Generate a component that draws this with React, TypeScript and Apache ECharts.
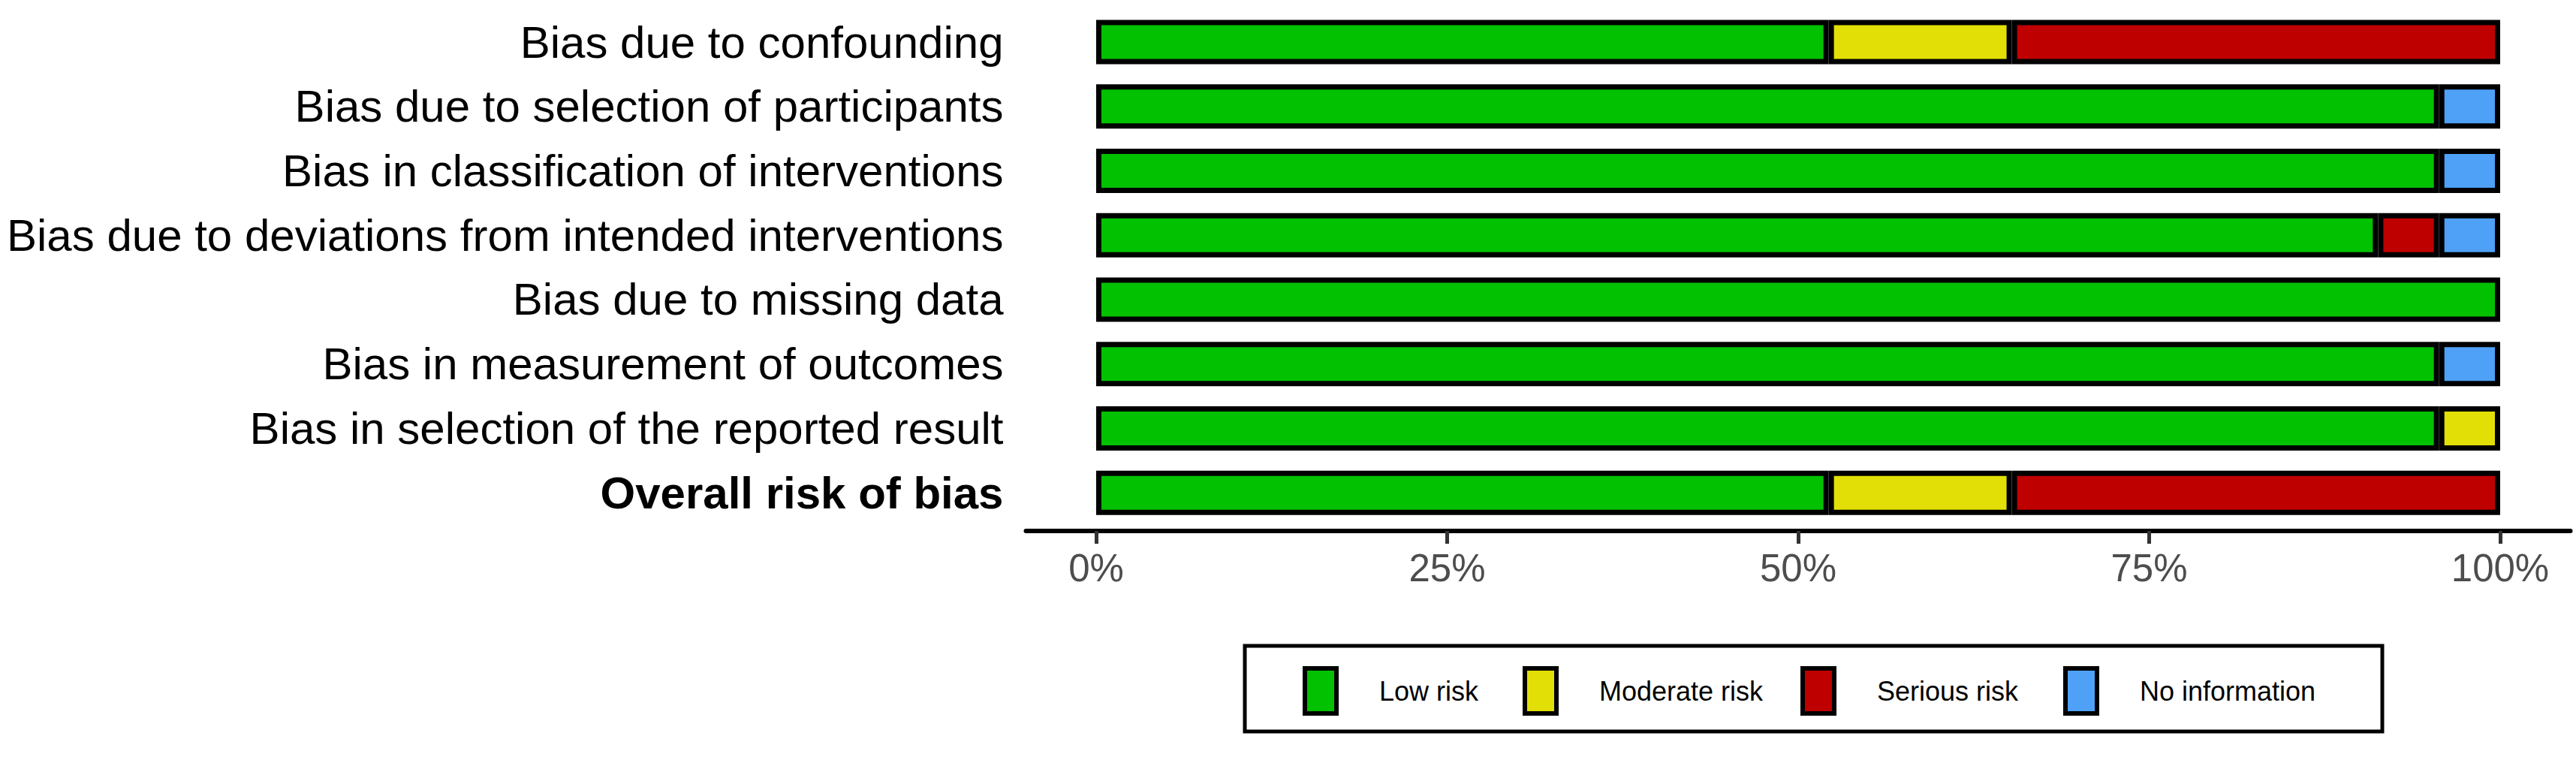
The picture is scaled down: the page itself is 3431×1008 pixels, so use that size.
import React, { useEffect, useRef } from "react";
import * as echarts from "echarts";

const domains = [
  "Bias due to confounding",
  "Bias due to selection of participants",
  "Bias in classification of interventions",
  "Bias due to deviations from intended interventions",
  "Bias due to missing data",
  "Bias in measurement of outcomes",
  "Bias in selection of the reported result",
  "Overall risk of bias",
];
const totalStudies = 23;
const lowRisk = [12, 22, 22, 21, 23, 22, 22, 12];
const moderateRisk = [3, 0, 0, 0, 0, 0, 1, 3];
const seriousRisk = [8, 0, 0, 1, 0, 0, 0, 8];
const noInformation = [0, 1, 1, 1, 0, 1, 0, 0];
const tickValues = [0, 25, 50, 75, 100];
const levelNames = ["Low risk", "Moderate risk", "Serious risk", "No information"];
const levelColors = ["#02C100", "#E2DF07", "#BF0000", "#4EA1F7"];

const FONT = "'Liberation Sans', Arial, Helvetica, sans-serif";

export default function App() {
  const ref = useRef<HTMLDivElement>(null);
  useEffect(() => {
    if (!ref.current) return;
    const chart = echarts.init(ref.current, undefined, { renderer: "svg" });
    const toPct = (arr: number[]) =>
      arr.map((c) => (c === 0 ? null : (c / totalStudies) * 100));
    const seriesData = [lowRisk, moderateRisk, seriousRisk, noInformation];
    const legendLeft = [1735, 2028, 2398, 2748];
    chart.setOption({
      animation: false,
      textStyle: { fontFamily: FONT },
      grid: { left: 1366.5, right: 3431 - 3423.5, top: 13.2, height: 685.8 },
      xAxis: {
        type: "value",
        min: -5,
        max: 105,
        offset: 8,
        splitLine: { show: false },
        axisLine: { show: true, lineStyle: { color: "#000", width: 6 } },
        axisTick: {
          show: true,
          customValues: tickValues,
          length: 17,
          lineStyle: { color: "#333", width: 5 },
        },
        axisLabel: {
          customValues: tickValues,
          formatter: (v: number) => v + "%",
          fontSize: 51,
          color: "#4d4d4d",
          fontFamily: FONT,
          margin: 24,
        },
      },
      yAxis: {
        type: "category",
        data: domains,
        inverse: true,
        axisLine: { show: false },
        axisTick: { show: false },
        splitLine: { show: false },
        axisLabel: {
          fontSize: 60,
          color: "#000",
          fontFamily: FONT,
          margin: 30,
          formatter: (v: string) =>
            v === "Overall risk of bias" ? "{b|" + v + "}" : v,
          rich: {
            b: { fontWeight: "bold", fontSize: 60, color: "#000", fontFamily: FONT },
          },
        },
      },
      legend: levelNames.map((name, i) => ({
        data: [name],
        left: legendLeft[i],
        top: 887,
        padding: 0,
        icon: "rect",
        itemWidth: 42,
        itemHeight: 60,
        selectedMode: false,
        itemStyle: { borderColor: "#000", borderWidth: 6 },
        textStyle: {
          fontSize: 36,
          color: "#000",
          fontFamily: FONT,
          padding: [0, 0, 0, 52],
        },
      })),
      graphic: [
        {
          type: "rect",
          shape: { x: 1658, y: 860, width: 1515, height: 114 },
          style: { fill: "none", stroke: "#000", lineWidth: 5 },
          silent: true,
        },
      ],
      series: levelNames.map((name, i) => ({
        name,
        type: "bar",
        stack: "total",
        barWidth: 59,
        data: toPct(seriesData[i]),
        itemStyle: { color: levelColors[i], borderColor: "#000", borderWidth: 7 },
        emphasis: { disabled: true },
      })),
    });
    return () => chart.dispose();
  }, []);
  return (
    <div
      ref={ref}
      style={{ position: "fixed", left: 0, top: 0, width: 3431, height: 1008, background: "#fff" }}
    />
  );
}
